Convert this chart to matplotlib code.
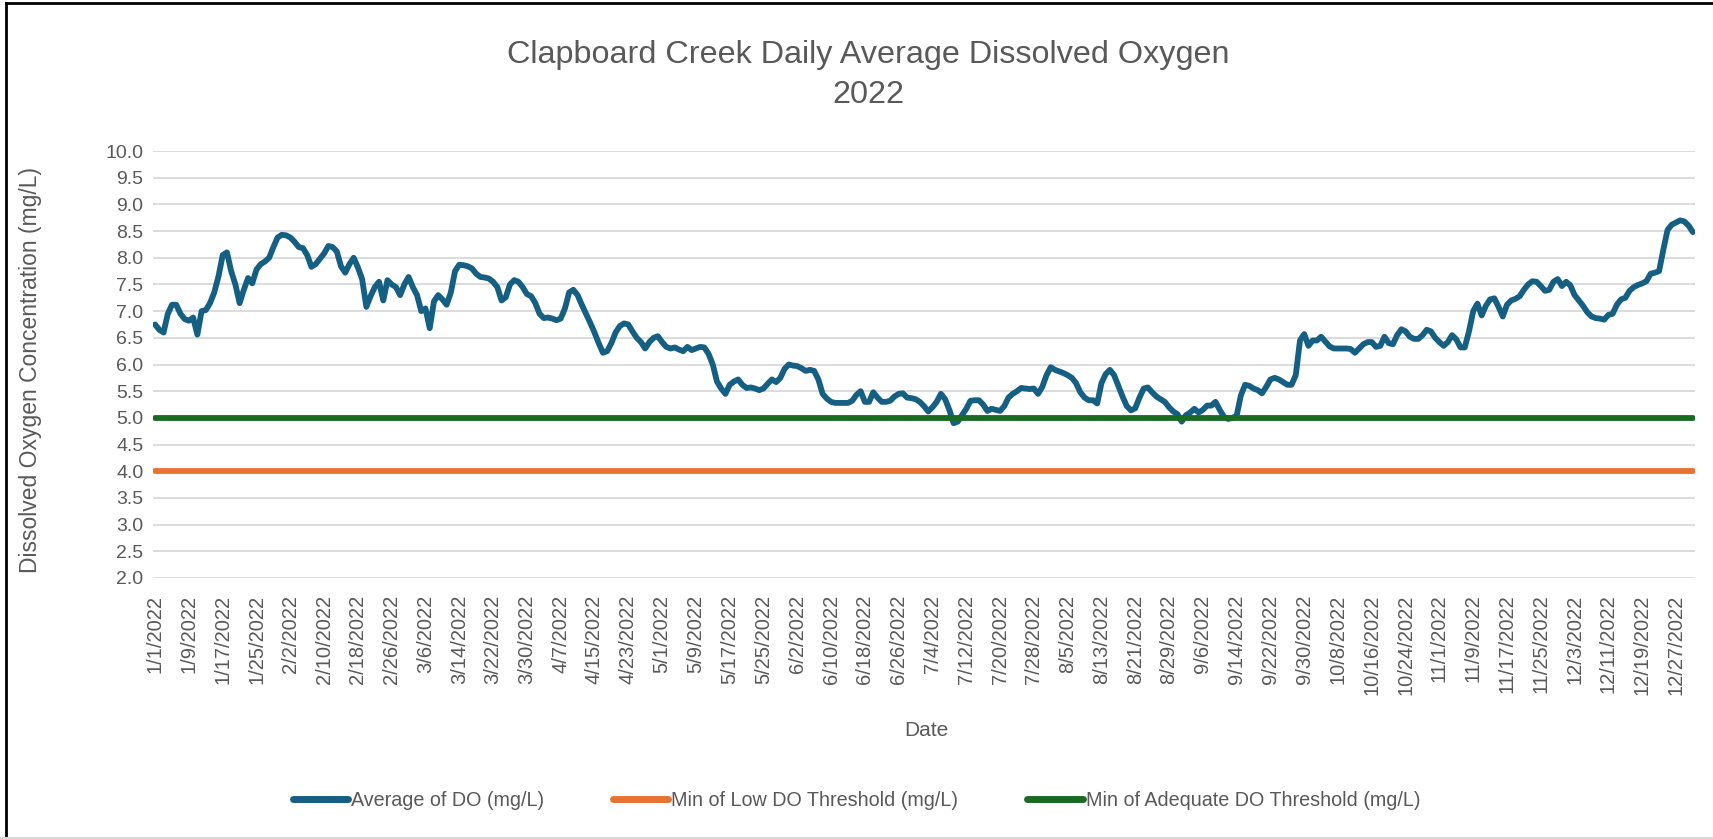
import matplotlib
matplotlib.use("Agg")
import matplotlib.pyplot as plt
from matplotlib.lines import Line2D
import numpy as np
import pandas as pd

# daily average DO, 1/1/2022 .. 12/31/2022
do_avg = [
    6.75, 6.65, 6.60, 6.95, 7.12, 7.12, 6.95, 6.85, 6.82, 6.88,
    6.56, 7.00, 7.02, 7.15, 7.35, 7.65, 8.05, 8.10, 7.75, 7.50,
    7.15, 7.40, 7.62, 7.52, 7.78, 7.88, 7.93, 8.00, 8.20, 8.38,
    8.43, 8.42, 8.38, 8.30, 8.20, 8.18, 8.05, 7.83, 7.88, 7.98,
    8.08, 8.22, 8.20, 8.12, 7.84, 7.72, 7.88, 8.00, 7.82, 7.60,
    7.08, 7.28, 7.45, 7.55, 7.20, 7.58, 7.50, 7.45, 7.30, 7.50,
    7.64, 7.45, 7.30, 7.00, 7.05, 6.68, 7.18, 7.30, 7.22, 7.12,
    7.35, 7.75, 7.87, 7.86, 7.84, 7.80, 7.70, 7.64, 7.63, 7.61,
    7.55, 7.45, 7.20, 7.26, 7.50, 7.58, 7.55, 7.45, 7.32, 7.28,
    7.15, 6.95, 6.87, 6.88, 6.86, 6.83, 6.86, 7.05, 7.35, 7.40,
    7.30, 7.12, 6.95, 6.78, 6.60, 6.40, 6.22, 6.25, 6.40, 6.60,
    6.72, 6.77, 6.75, 6.62, 6.50, 6.42, 6.30, 6.42, 6.50, 6.53,
    6.42, 6.33, 6.30, 6.32, 6.28, 6.25, 6.33, 6.27, 6.30, 6.33,
    6.32, 6.20, 6.00, 5.68, 5.55, 5.45, 5.62, 5.68, 5.72, 5.62,
    5.56, 5.57, 5.55, 5.52, 5.55, 5.64, 5.72, 5.67, 5.75, 5.92,
    6.00, 5.98, 5.97, 5.93, 5.88, 5.90, 5.88, 5.72, 5.45, 5.36,
    5.30, 5.28, 5.28, 5.28, 5.28, 5.32, 5.43, 5.50, 5.30, 5.30,
    5.48, 5.38, 5.30, 5.30, 5.32, 5.40, 5.45, 5.46, 5.38, 5.37,
    5.35, 5.30, 5.22, 5.12, 5.20, 5.30, 5.45, 5.35, 5.15, 4.90,
    4.93, 5.05, 5.17, 5.32, 5.33, 5.33, 5.25, 5.13, 5.17, 5.15,
    5.13, 5.22, 5.38, 5.45, 5.50, 5.56, 5.55, 5.54, 5.55, 5.45,
    5.58, 5.80, 5.95, 5.90, 5.87, 5.84, 5.80, 5.75, 5.65, 5.48,
    5.38, 5.33, 5.33, 5.27, 5.65, 5.82, 5.90, 5.80, 5.60, 5.40,
    5.22, 5.14, 5.18, 5.38, 5.55, 5.57, 5.48, 5.40, 5.35, 5.30,
    5.20, 5.12, 5.07, 4.93, 5.05, 5.10, 5.17, 5.10, 5.15, 5.23,
    5.23, 5.30, 5.15, 5.02, 4.98, 5.00, 5.04, 5.42, 5.62, 5.60,
    5.55, 5.52, 5.46, 5.58, 5.72, 5.75, 5.72, 5.67, 5.62, 5.62,
    5.80, 6.45, 6.57, 6.35, 6.45, 6.45, 6.52, 6.43, 6.34, 6.30,
    6.30, 6.30, 6.30, 6.29, 6.22, 6.30, 6.38, 6.42, 6.42, 6.33,
    6.35, 6.52, 6.40, 6.38, 6.55, 6.66, 6.62, 6.52, 6.48, 6.48,
    6.55, 6.65, 6.62, 6.50, 6.42, 6.35, 6.42, 6.55, 6.47, 6.32,
    6.32, 6.62, 7.00, 7.14, 6.92, 7.10, 7.22, 7.24, 7.08, 6.90,
    7.12, 7.20, 7.23, 7.28, 7.40, 7.50, 7.56, 7.55, 7.47, 7.38,
    7.40, 7.55, 7.60, 7.47, 7.55, 7.48, 7.30, 7.20, 7.10, 6.98,
    6.90, 6.87, 6.86, 6.84, 6.93, 6.95, 7.12, 7.22, 7.25, 7.38,
    7.45, 7.49, 7.52, 7.56, 7.70, 7.72, 7.75, 8.15, 8.52, 8.62,
    8.66, 8.70, 8.68, 8.60, 8.48,
]
low_threshold = 4.0
adequate_threshold = 5.0

dates = pd.date_range("2022-01-01", periods=len(do_avg), freq="D")
date_labels = [f"{d.month}/{d.day}/{d.year}" for d in dates]

blue = "#156082"
orange = "#E97132"
green = "#196B24"
grey_text = "#595959"

plt.rcParams["font.family"] = ["Liberation Sans", "DejaVu Sans"]

W, H = 1713, 839
fig = plt.figure(figsize=(17.13, 8.39), dpi=100)
ax = fig.add_axes([153 / W, 1 - 578 / H, (1695 - 153) / W, (578 - 151) / H])

x = np.arange(len(do_avg))
ax.plot(x, do_avg, color=blue, lw=4.2, solid_joinstyle="round",
        solid_capstyle="round", zorder=3)
ax.plot(x, [low_threshold] * len(x), color=orange, lw=4.2,
        solid_capstyle="round", zorder=4)
ax.plot(x, [adequate_threshold] * len(x), color=green, lw=4.2,
        solid_capstyle="round", zorder=5)

ax.set_xlim(-0.5, len(x) - 0.5)
ax.set_ylim(2.0, 10.0)
ax.set_yticks(np.arange(2.0, 10.01, 0.5))
ax.set_yticklabels([f"{v:.1f}" for v in np.arange(2.0, 10.01, 0.5)])
ax.set_xticks(x[::8])
ax.set_xticklabels(date_labels[::8], rotation=90, va="top", ha="center")

ax.grid(axis="y", color="#D9D9D9", lw=1.3, zorder=0)
for s in ax.spines.values():
    s.set_visible(False)
ax.tick_params(axis="both", length=0, colors=grey_text, labelsize=14)
ax.tick_params(axis="x", pad=12, labelsize=14.5)
ax.tick_params(axis="y", pad=7)

fig.text(31 / W, 1 - 370 / H, "Dissolved Oxygen Concentration (mg/L)",
         fontsize=16.5, color=grey_text, rotation=90, ha="center", va="center")
fig.text(926 / W, 1 - 730 / H, "Date", fontsize=15, color=grey_text,
         ha="center", va="center")

fig.text(868 / W, 1 - 75 / H,
         "Clapboard Creek Daily Average Dissolved Oxygen\n2022",
         fontsize=23.3, color=grey_text, ha="center", va="center",
         linespacing=1.42)

handles = [Line2D([], [], color=blue, lw=5, solid_capstyle="round"),
           Line2D([], [], color=orange, lw=5, solid_capstyle="round"),
           Line2D([], [], color=green, lw=5, solid_capstyle="round")]
fig.legend(handles,
           ["Average of DO (mg/L)", "Min of Low DO Threshold (mg/L)",
            "Min of Adequate DO Threshold (mg/L)"],
           loc="center", bbox_to_anchor=(0.5, 1 - 800 / H), ncol=3,
           frameon=False, fontsize=14.2, handlelength=2.8, handletextpad=0.15,
           columnspacing=3.5, labelcolor=grey_text)

# chart frame
fig.add_artist(Line2D([6 / W, 6 / W], [0, 1 - 3 / H], color="black",
                      lw=2, transform=fig.transFigure))
fig.add_artist(Line2D([6 / W, 1], [1 - 3 / H, 1 - 3 / H], color="black",
                      lw=2, transform=fig.transFigure))
fig.add_artist(Line2D([0, 1], [1 / H, 1 / H], color="#D9D9D9",
                      lw=1.5, transform=fig.transFigure))

fig.savefig("out.png", dpi=100, facecolor="white")
